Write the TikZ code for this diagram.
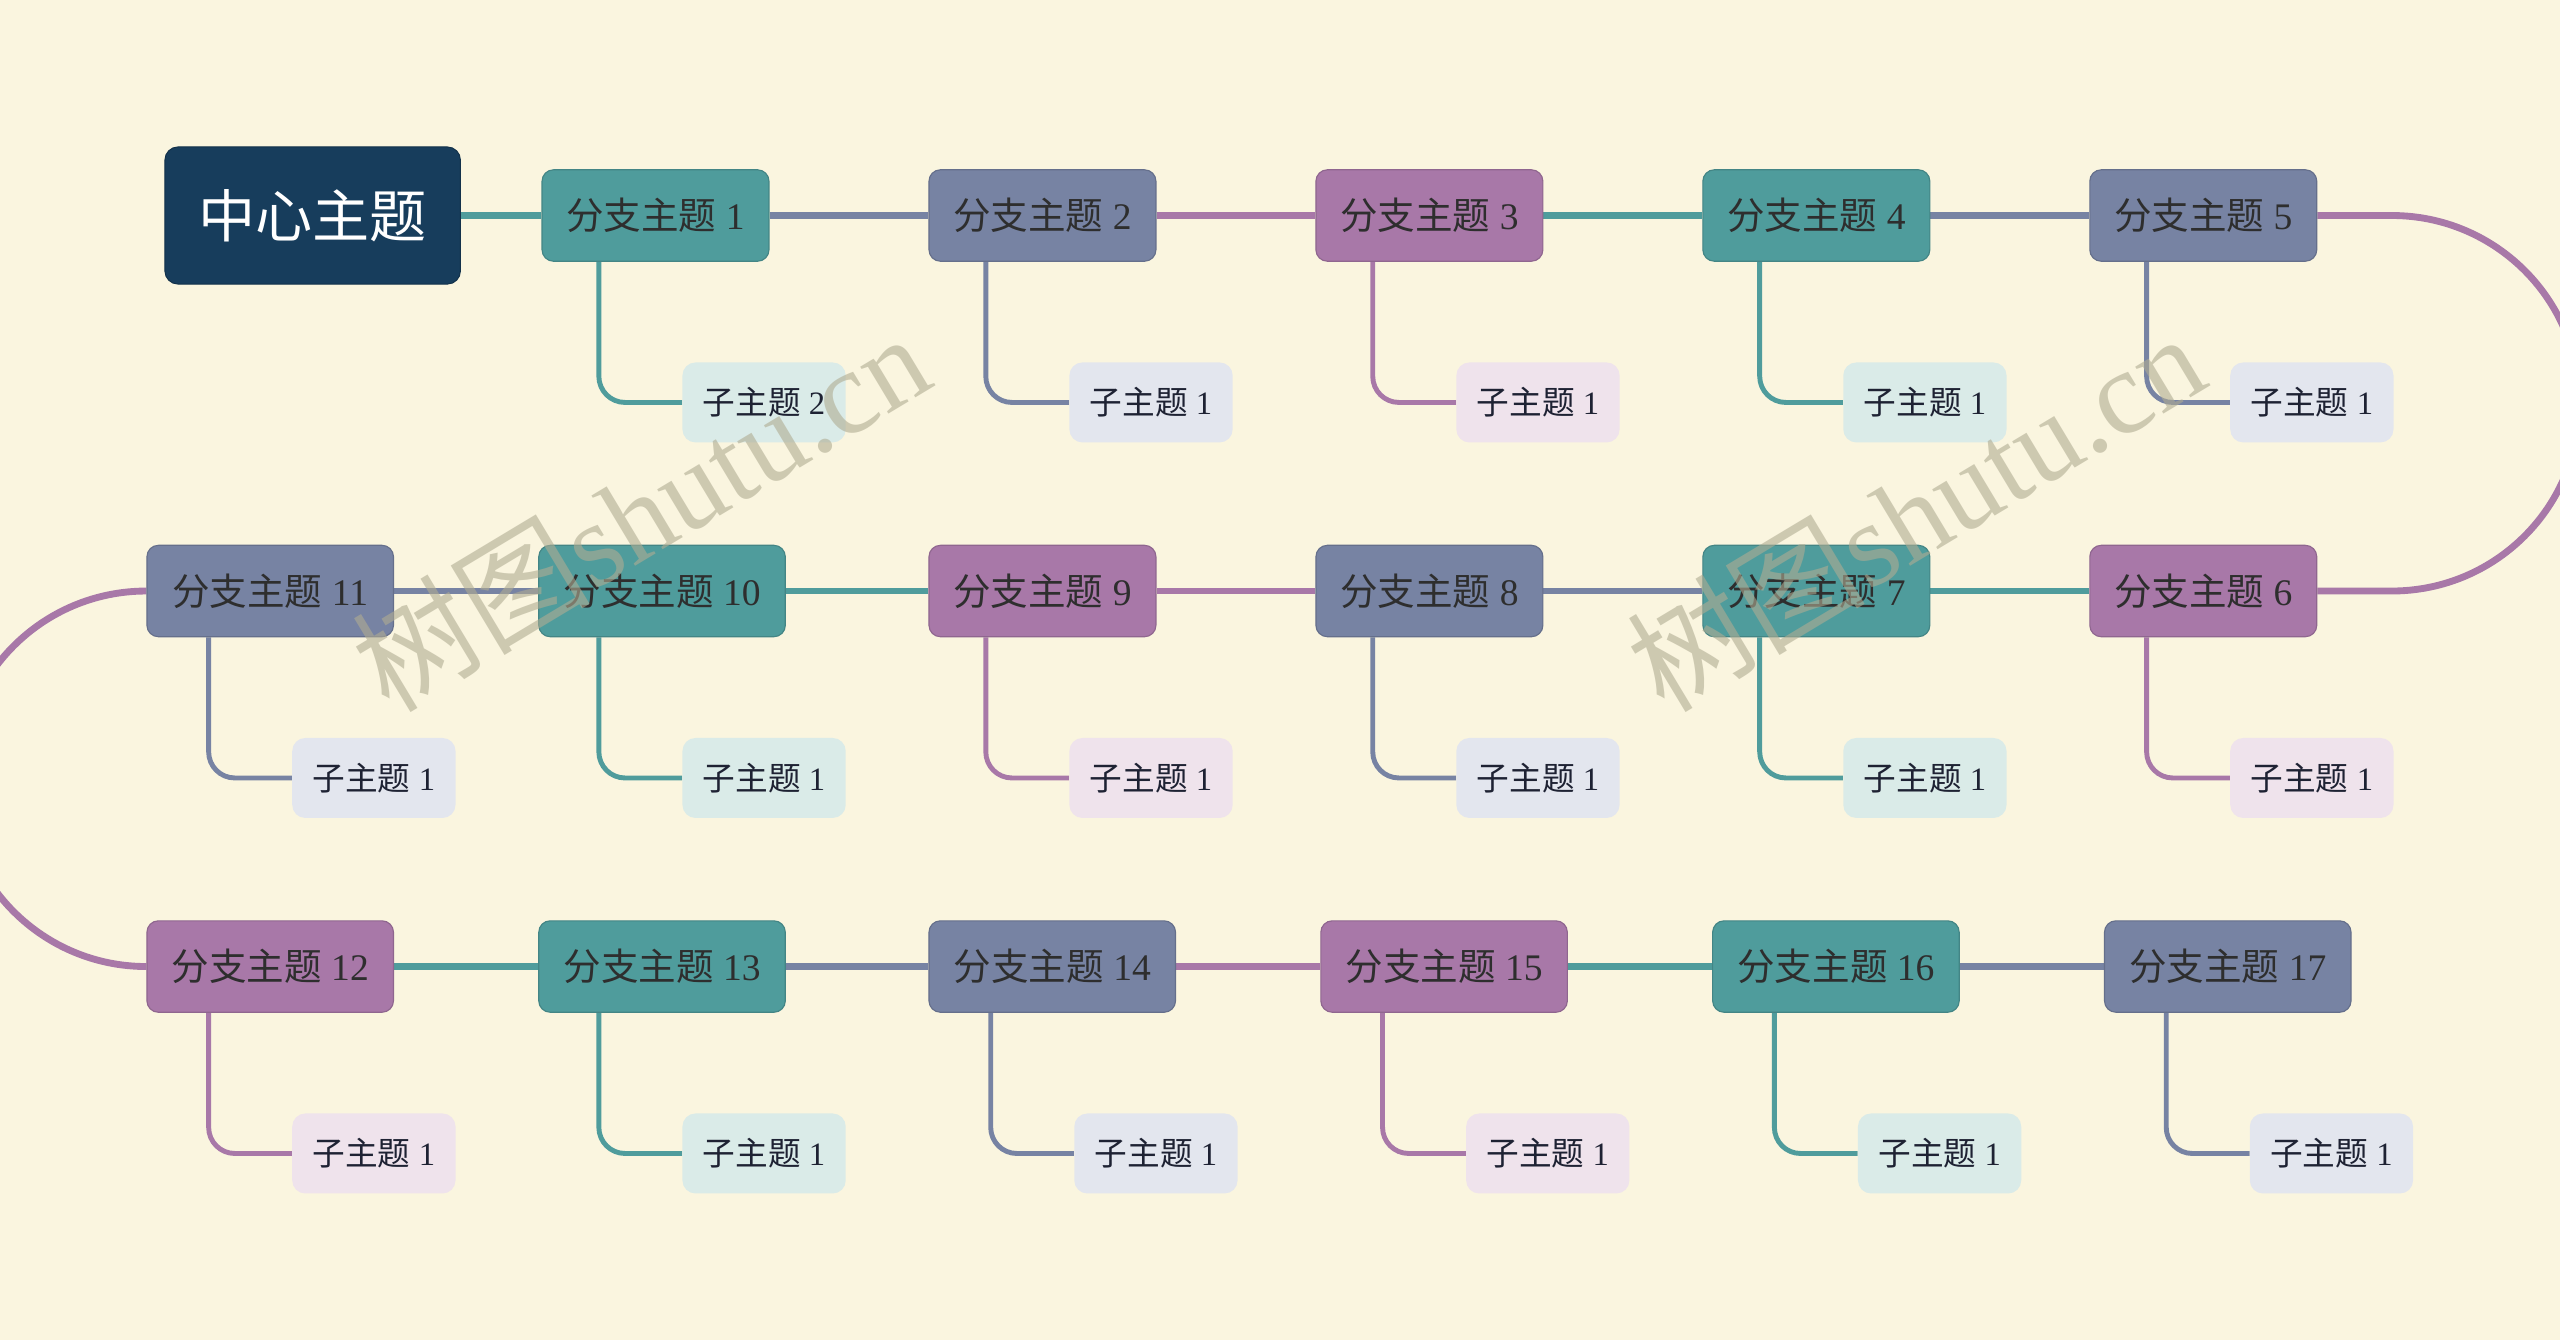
\documentclass[tikz,border=0pt]{standalone}
\usepackage{fontspec}
\setmainfont{Liberation Serif}
\newfontfamily\cjk{Noto Sans CJK SC}
\usetikzlibrary{backgrounds}
\definecolor{bg}{HTML}{FAF5DF}
\definecolor{cnavy}{HTML}{173D5C}
\definecolor{cteal}{HTML}{4F9C9C}
\definecolor{cslate}{HTML}{7783A3}
\definecolor{cpurp}{HTML}{A878A8}
\definecolor{lteal}{HTML}{DAEBE8}
\definecolor{lslate}{HTML}{E3E6EE}
\definecolor{lpurp}{HTML}{EFE3EC}
\definecolor{txt}{HTML}{2E2E2E}
\definecolor{subtxt}{HTML}{1E2233}
\definecolor{wm}{HTML}{B0AC92}
\newcommand\BrLbl[1]{{\cjk 分支主题} #1}
\newcommand\SbLbl[1]{{\cjk 子主题} #1}
\begin{document}
\begin{tikzpicture}[x=1pt,y=1pt,
  central/.style={rectangle, rounded corners=8pt, fill=cnavy, draw=cnavy!80!black, line width=0.6pt,
    minimum width=181pt, minimum height=84pt, inner sep=0pt, text=white,
    font=\cjk\fontsize{35}{35}\selectfont},
  branch/.style={rectangle, rounded corners=7pt, fill=#1, draw=#1!85!black, line width=0.7pt,
    minimum height=56pt, inner sep=0pt, text=txt, font=\fontsize{23}{23}\selectfont},
  subn/.style={rectangle, rounded corners=8pt, fill=#1, minimum width=100pt, minimum height=49pt,
    inner sep=0pt, text=subtxt, font=\fontsize{20}{20}\selectfont},
  mline/.style={draw=#1, line width=4.2pt},
  sline/.style={draw=#1, line width=3pt, rounded corners=16pt},
  wmark/.style={rotate=31, text=wm, opacity=0.6, font=\fontsize{73}{73}\selectfont}
]
\useasboundingbox (0,0) rectangle (1568,-821);

% central
\node[central] (c) at (191.5,-132) {中心主题};

% row 1
\node[branch=cteal,  minimum width=139pt] (b1) at (401.5,-132) {\BrLbl{1}};
\node[branch=cslate, minimum width=139pt] (b2) at (638.5,-132) {\BrLbl{2}};
\node[branch=cpurp,  minimum width=139pt] (b3) at (875.5,-132) {\BrLbl{3}};
\node[branch=cteal,  minimum width=139pt] (b4) at (1112.5,-132) {\BrLbl{4}};
\node[branch=cslate, minimum width=139pt] (b5) at (1349.5,-132) {\BrLbl{5}};
% row 2
\node[branch=cpurp,  minimum width=139pt] (b6) at (1349.5,-362) {\BrLbl{6}};
\node[branch=cteal,  minimum width=139pt] (b7) at (1112.5,-362) {\BrLbl{7}};
\node[branch=cslate, minimum width=139pt] (b8) at (875.5,-362) {\BrLbl{8}};
\node[branch=cpurp,  minimum width=139pt] (b9) at (638.5,-362) {\BrLbl{9}};
\node[branch=cteal,  minimum width=151pt] (b10) at (405.5,-362) {\BrLbl{10}};
\node[branch=cslate, minimum width=151pt] (b11) at (165.5,-362) {\BrLbl{11}};
% row 3
\node[branch=cpurp,  minimum width=151pt] (b12) at (165.5,-592) {\BrLbl{12}};
\node[branch=cteal,  minimum width=151pt] (b13) at (405.5,-592) {\BrLbl{13}};
\node[branch=cslate, minimum width=151pt] (b14) at (644.5,-592) {\BrLbl{14}};
\node[branch=cpurp,  minimum width=151pt] (b15) at (884.5,-592) {\BrLbl{15}};
\node[branch=cteal,  minimum width=151pt] (b16) at (1124.5,-592) {\BrLbl{16}};
\node[branch=cslate, minimum width=151pt] (b17) at (1364.5,-592) {\BrLbl{17}};

% sub topics
\node[subn=lteal]  (s1) at (468,-246.5) {\SbLbl{2}};
\node[subn=lslate] (s2) at (705,-246.5) {\SbLbl{1}};
\node[subn=lpurp]  (s3) at (942,-246.5) {\SbLbl{1}};
\node[subn=lteal]  (s4) at (1179,-246.5) {\SbLbl{1}};
\node[subn=lslate] (s5) at (1416,-246.5) {\SbLbl{1}};
\node[subn=lpurp]  (s6) at (1416,-476.5) {\SbLbl{1}};
\node[subn=lteal]  (s7) at (1179,-476.5) {\SbLbl{1}};
\node[subn=lslate] (s8) at (942,-476.5) {\SbLbl{1}};
\node[subn=lpurp]  (s9) at (705,-476.5) {\SbLbl{1}};
\node[subn=lteal]  (s10) at (468,-476.5) {\SbLbl{1}};
\node[subn=lslate] (s11) at (229,-476.5) {\SbLbl{1}};
\node[subn=lpurp]  (s12) at (229,-706.5) {\SbLbl{1}};
\node[subn=lteal]  (s13) at (468,-706.5) {\SbLbl{1}};
\node[subn=lslate] (s14) at (708,-706.5) {\SbLbl{1}};
\node[subn=lpurp]  (s15) at (948,-706.5) {\SbLbl{1}};
\node[subn=lteal]  (s16) at (1188,-706.5) {\SbLbl{1}};
\node[subn=lslate] (s17) at (1428,-706.5) {\SbLbl{1}};

\coordinate (rarc) at (1465,-132);

\begin{scope}[on background layer]
\fill[bg] (0,0) rectangle (1568,-821);
% main line
\draw[mline=cteal]  (c.east) -- (b1.west);
\draw[mline=cslate] (b1.east) -- (b2.west);
\draw[mline=cpurp]  (b2.east) -- (b3.west);
\draw[mline=cteal]  (b3.east) -- (b4.west);
\draw[mline=cslate] (b4.east) -- (b5.west);
\draw[mline=cpurp]  (b5.east) -- (rarc) arc[start angle=90, end angle=-90, radius=115] -- (b6.east);
\draw[mline=cteal]  (b6.west) -- (b7.east);
\draw[mline=cslate] (b7.west) -- (b8.east);
\draw[mline=cpurp]  (b8.west) -- (b9.east);
\draw[mline=cteal]  (b9.west) -- (b10.east);
\draw[mline=cslate] (b10.west) -- (b11.east);
\draw[mline=cpurp]  (b11.west) arc[start angle=90, end angle=270, radius=115];
\draw[mline=cteal]  (b12.east) -- (b13.west);
\draw[mline=cslate] (b13.east) -- (b14.west);
\draw[mline=cpurp]  (b14.east) -- (b15.west);
\draw[mline=cteal]  (b15.east) -- (b16.west);
\draw[mline=cslate] (b16.east) -- (b17.west);
% sub lines
\draw[sline=cteal]  (b1.south -| s1.west) ++(-51,0) |- (s1.west);
\draw[sline=cslate] (b2.south -| s2.west) ++(-51,0) |- (s2.west);
\draw[sline=cpurp]  (b3.south -| s3.west) ++(-51,0) |- (s3.west);
\draw[sline=cteal]  (b4.south -| s4.west) ++(-51,0) |- (s4.west);
\draw[sline=cslate] (b5.south -| s5.west) ++(-51,0) |- (s5.west);
\draw[sline=cpurp]  (b6.south -| s6.west) ++(-51,0) |- (s6.west);
\draw[sline=cteal]  (b7.south -| s7.west) ++(-51,0) |- (s7.west);
\draw[sline=cslate] (b8.south -| s8.west) ++(-51,0) |- (s8.west);
\draw[sline=cpurp]  (b9.south -| s9.west) ++(-51,0) |- (s9.west);
\draw[sline=cteal]  (b10.south -| s10.west) ++(-51,0) |- (s10.west);
\draw[sline=cslate] (b11.south -| s11.west) ++(-51,0) |- (s11.west);
\draw[sline=cpurp]  (b12.south -| s12.west) ++(-51,0) |- (s12.west);
\draw[sline=cteal]  (b13.south -| s13.west) ++(-51,0) |- (s13.west);
\draw[sline=cslate] (b14.south -| s14.west) ++(-51,0) |- (s14.west);
\draw[sline=cpurp]  (b15.south -| s15.west) ++(-51,0) |- (s15.west);
\draw[sline=cteal]  (b16.south -| s16.west) ++(-51,0) |- (s16.west);
\draw[sline=cslate] (b17.south -| s17.west) ++(-51,0) |- (s17.west);
\end{scope}

% watermarks
\node[wmark] (w1) at (392,-313) {{\cjk 树图}shutu.cn};
\node[wmark] (w2) at (1173,-313) {{\cjk 树图}shutu.cn};
\end{tikzpicture}
\end{document}
